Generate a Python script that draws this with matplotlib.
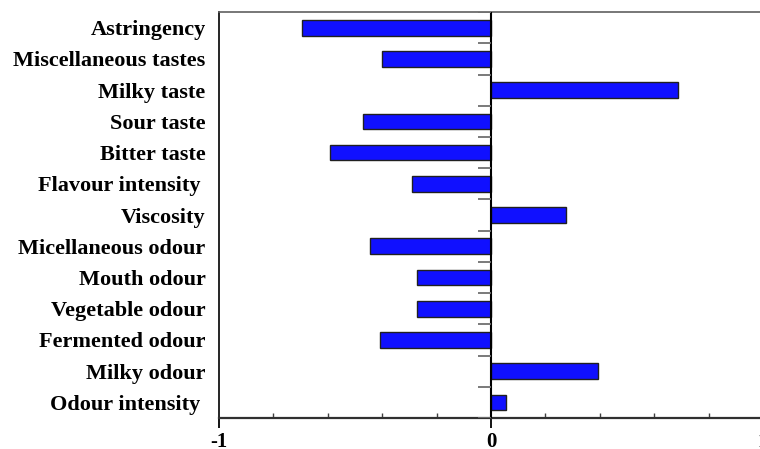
import matplotlib.pyplot as plt
import numpy as np

# sensory attributes, top to bottom
attributes = [
    "Astringency", "Miscellaneous tastes", "Milky taste", "Sour taste",
    "Bitter taste", "Flavour intensity ", "Viscosity", "Micellaneous odour",
    "Mouth odour", "Vegetable odour", "Fermented odour", "Milky odour",
    "Odour intensity ",
]
loadings = [-0.694, -0.402, 0.686, -0.470, -0.590, -0.292, 0.277, -0.443,
            -0.273, -0.273, -0.408, 0.395, 0.055]
x_major = [-1, 0, 1]
x_labels = ["-1", "0", "1"]

plt.rcParams["font.family"] = ["Liberation Serif", "DejaVu Serif"]

fig = plt.figure(figsize=(7.6, 4.49), dpi=100)
ax = fig.add_axes([0.288, 0.069, 0.716, 0.904])

pos = np.arange(len(attributes))
ax.barh(pos, loadings, height=0.5, color="#1010ff", edgecolor="#202020",
        linewidth=1.0, zorder=3)

ax.set_xlim(-1, 1)
ax.set_ylim(len(attributes) - 0.5, -0.5)

# zero line with small category separators
ax.axvline(0, color="black", linewidth=1.5, zorder=4)
bounds = np.arange(len(attributes) + 1) - 0.5
ax.hlines(bounds, -0.046, 0, color="#707070", linewidth=1.3, zorder=4)

ax.set_yticks(pos)
ax.set_yticklabels(attributes, fontsize=16, fontweight="bold")
ax.tick_params(axis="y", length=0, pad=9.5)

ax.set_xticks(x_major)
ax.set_xticklabels(x_labels, fontsize=15, fontweight="bold")
ax.set_xticks(np.arange(-1, 1.01, 0.2), minor=True)
ax.tick_params(axis="x", which="major", direction="out", length=7, width=1.3,
               color="black", pad=3)
ax.tick_params(axis="x", which="minor", direction="in", length=3.6, width=1.0,
               color="#404040")

ax.spines["right"].set_visible(False)
ax.spines["top"].set_color("#606060")
ax.spines["top"].set_linewidth(1.2)
ax.spines["bottom"].set_linewidth(1.6)
ax.spines["bottom"].set_color("#303030")
ax.spines["left"].set_linewidth(1.2)

fig.savefig("out.png", dpi=100)
